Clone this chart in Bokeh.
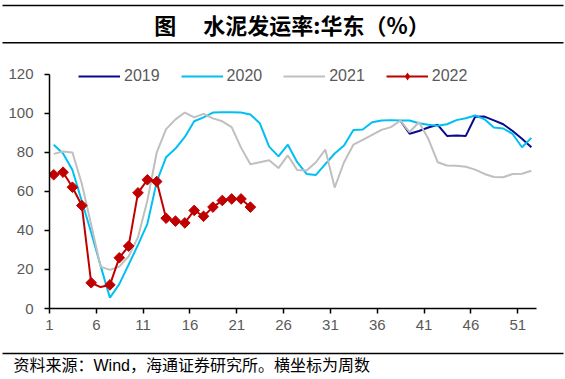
from bokeh.plotting import figure
from bokeh.layouts import column
from bokeh.models import (Range1d, FixedTicker, CustomJSTickFormatter, Legend,
                          LegendItem, Label, BoxAnnotation)
from bokeh.embed import file_html
from bokeh.resources import INLINE

# ---------------- data ----------------
title_text = "图\u3000 水泥发运率:华东（%）"
source_text = "资料来源：Wind，海通证券研究所。横坐标为周数"

tick_weeks = [1, 6, 11, 16, 21, 26, 31, 36, 41, 46, 51]
y_ticks = [0, 20, 40, 60, 80, 100, 120]

weeks_2019 = list(range(38, 53))
vals_2019 = [96.4, 89.6, 91.0, 92.8, 94.2, 88.5, 88.7, 88.5, 98.3, 98.4,
             96.5, 94.5, 91.0, 87.0, 82.7]

weeks_2020 = list(range(1, 53))
vals_2020 = [84, 79.5, 71, 55, 39, 22, 5.5, 12.5, 22.5, 32.6,
             43.4, 65, 77.6, 82, 88, 96, 98, 100.5, 100.7, 100.7,
             100.5, 99.5, 95, 83, 78, 84, 75, 69, 68.5, 74,
             79.5, 83.6, 91.5, 91.8, 95.5, 96.4, 96.6, 96.4, 96.4, 95,
             94.2, 93.7, 94.5, 96.6, 97.6, 99, 97, 92.8, 92.3, 89.5,
             82.7, 87.5]

weeks_2021 = list(range(1, 53))
vals_2021 = [79.3, 80.5, 80, 64, 43, 21.5, 19.8, 21.5, 26.7, 36.6,
             55.4, 80, 92, 97, 100.5, 98, 99.8, 97.5, 96, 93,
             82.5, 74, 75, 76, 72, 78.5, 71, 70.8, 75, 81.5,
             62, 75, 84, 86.5, 89, 91.6, 93, 96.3, 90.5, 95.5,
             87, 75, 73.3, 73.2, 72.7, 71.2, 69, 67.4, 67.3, 69,
             69.1, 70.6]

weeks_2022 = list(range(1, 23))
vals_2022 = [68.6, 69.9, 62.2, 52.8, 13.2, 11.0, 12.1, 26.0, 32.0, 59.3,
             66.0, 65.1, 46.3, 44.8, 43.9, 50.3, 47.3, 52.0, 55.4, 56.2,
             56.2, 52.0]
no_marker_weeks_2022 = [6]

colors = {"2019": "#0A0A8C", "2020": "#00BFF3", "2021": "#BFBFBF", "2022": "#C00000"}

# ---------------- layout constants ----------------
W = 565
H_HEAD, H_MAIN, H_FOOT = 44, 305, 30
week_shift = 0.45          # points sit right of their week tick (date-style axis)
y_top_room = 126.15        # frame extends above 120 so the legend is not clipped

lab_font = "Liberation Sans"
lab_color = "#595959"


def blank_fig(h):
    f = figure(width=W, height=h, output_backend="svg", toolbar_location=None,
               x_range=Range1d(0, W), y_range=Range1d(0, h),
               x_axis_type=None, y_axis_type=None, title=None,
               min_border_left=0, min_border_right=0, min_border_top=0,
               min_border_bottom=0, frame_align=False)
    f.xgrid.visible = False
    f.ygrid.visible = False
    f.outline_line_color = None
    f.border_fill_color = "white"
    return f


def rule(f, y, thick=1.5):
    f.add_layout(BoxAnnotation(left=2, right=W - 2, bottom=y - thick / 2,
                               top=y + thick / 2, fill_color="black",
                               fill_alpha=1, line_color=None))


# ---------------- header ----------------
head = blank_fig(H_HEAD)
rule(head, H_HEAD - 5)
rule(head, H_HEAD - 42.3)
head.add_layout(Label(x=W / 2 + 9, y=H_HEAD - 23, text=title_text,
                      text_align="center", text_baseline="middle",
                      text_font="Noto Sans CJK SC", text_font_style="bold",
                      text_font_size="22px", text_color="black"))

# ---------------- main chart ----------------
p = figure(width=W, height=H_MAIN, output_backend="svg", toolbar_location=None,
           x_range=Range1d(1 - week_shift, 53 - week_shift),
           y_range=Range1d(0, y_top_room), title=None,
           min_border_left=49, min_border_right=29, min_border_top=18,
           min_border_bottom=41, frame_align=False)
p.xgrid.visible = False
p.ygrid.visible = False
p.outline_line_color = None
p.border_fill_color = "white"

ya = p.yaxis[0]
ya.ticker = FixedTicker(ticks=y_ticks)
ya.bounds = (0, 120)
xa = p.xaxis[0]
xa.ticker = FixedTicker(ticks=[w - week_shift for w in tick_weeks])
xa.formatter = CustomJSTickFormatter(
    code="return String(Math.round(tick + %s));" % week_shift)
for ax in (xa, ya):
    ax.major_tick_out = 5
    ax.major_tick_in = 0
    ax.minor_tick_out = 0
    ax.minor_tick_in = 0
    ax.axis_line_color = "black"
    ax.axis_line_width = 1.5
    ax.major_tick_line_color = "black"
    ax.major_tick_line_width = 1.5
    ax.major_label_text_font = lab_font
    ax.major_label_text_font_size = "15px"
    ax.major_label_text_color = lab_color
ya.major_label_standoff = 11
xa.major_label_standoff = 6

r19 = p.line(weeks_2019, vals_2019, line_color=colors["2019"], line_width=2)
r20 = p.line(weeks_2020, vals_2020, line_color=colors["2020"], line_width=2)
r21 = p.line(weeks_2021, vals_2021, line_color=colors["2021"], line_width=2)
r22 = p.line(weeks_2022, vals_2022, line_color=colors["2022"], line_width=2)
mk_w = [w for w in weeks_2022 if w not in no_marker_weeks_2022]
mk_v = [v for w, v in zip(weeks_2022, vals_2022) if w not in no_marker_weeks_2022]
r22m = p.scatter(mk_w, mk_v, marker="square", angle=0.785398, size=7.5,
                 fill_color=colors["2022"], line_color=colors["2022"])
# zero-size twin used only for the legend swatch (legend markers are unrotated)
r22leg = p.scatter(mk_w, mk_v, marker="diamond", size=0,
                   fill_color=colors["2022"], line_color=None)

legend = Legend(items=[LegendItem(label="2019", renderers=[r19]),
                       LegendItem(label="2020", renderers=[r20]),
                       LegendItem(label="2021", renderers=[r21]),
                       LegendItem(label="2022", renderers=[r22, r22leg])],
                location=(29, 222), orientation="horizontal",
                glyph_width=42, glyph_height=20, label_standoff=4, spacing=21,
                padding=0, margin=0, border_line_color=None,
                background_fill_alpha=0,
                label_text_font=lab_font, label_text_font_size="16px",
                label_text_color=lab_color)
p.add_layout(legend)

# ---------------- footer ----------------
foot = blank_fig(H_FOOT)
rule(foot, H_FOOT - 4)
foot.add_layout(Label(x=13, y=H_FOOT - 16, text=source_text,
                      text_align="left", text_baseline="middle",
                      text_font="Liberation Sans, Noto Sans CJK SC",
                      text_font_size="16px", text_color="black"))

layout = column(head, p, foot, spacing=0)
open("out.html", "w").write(file_html(layout, INLINE))
